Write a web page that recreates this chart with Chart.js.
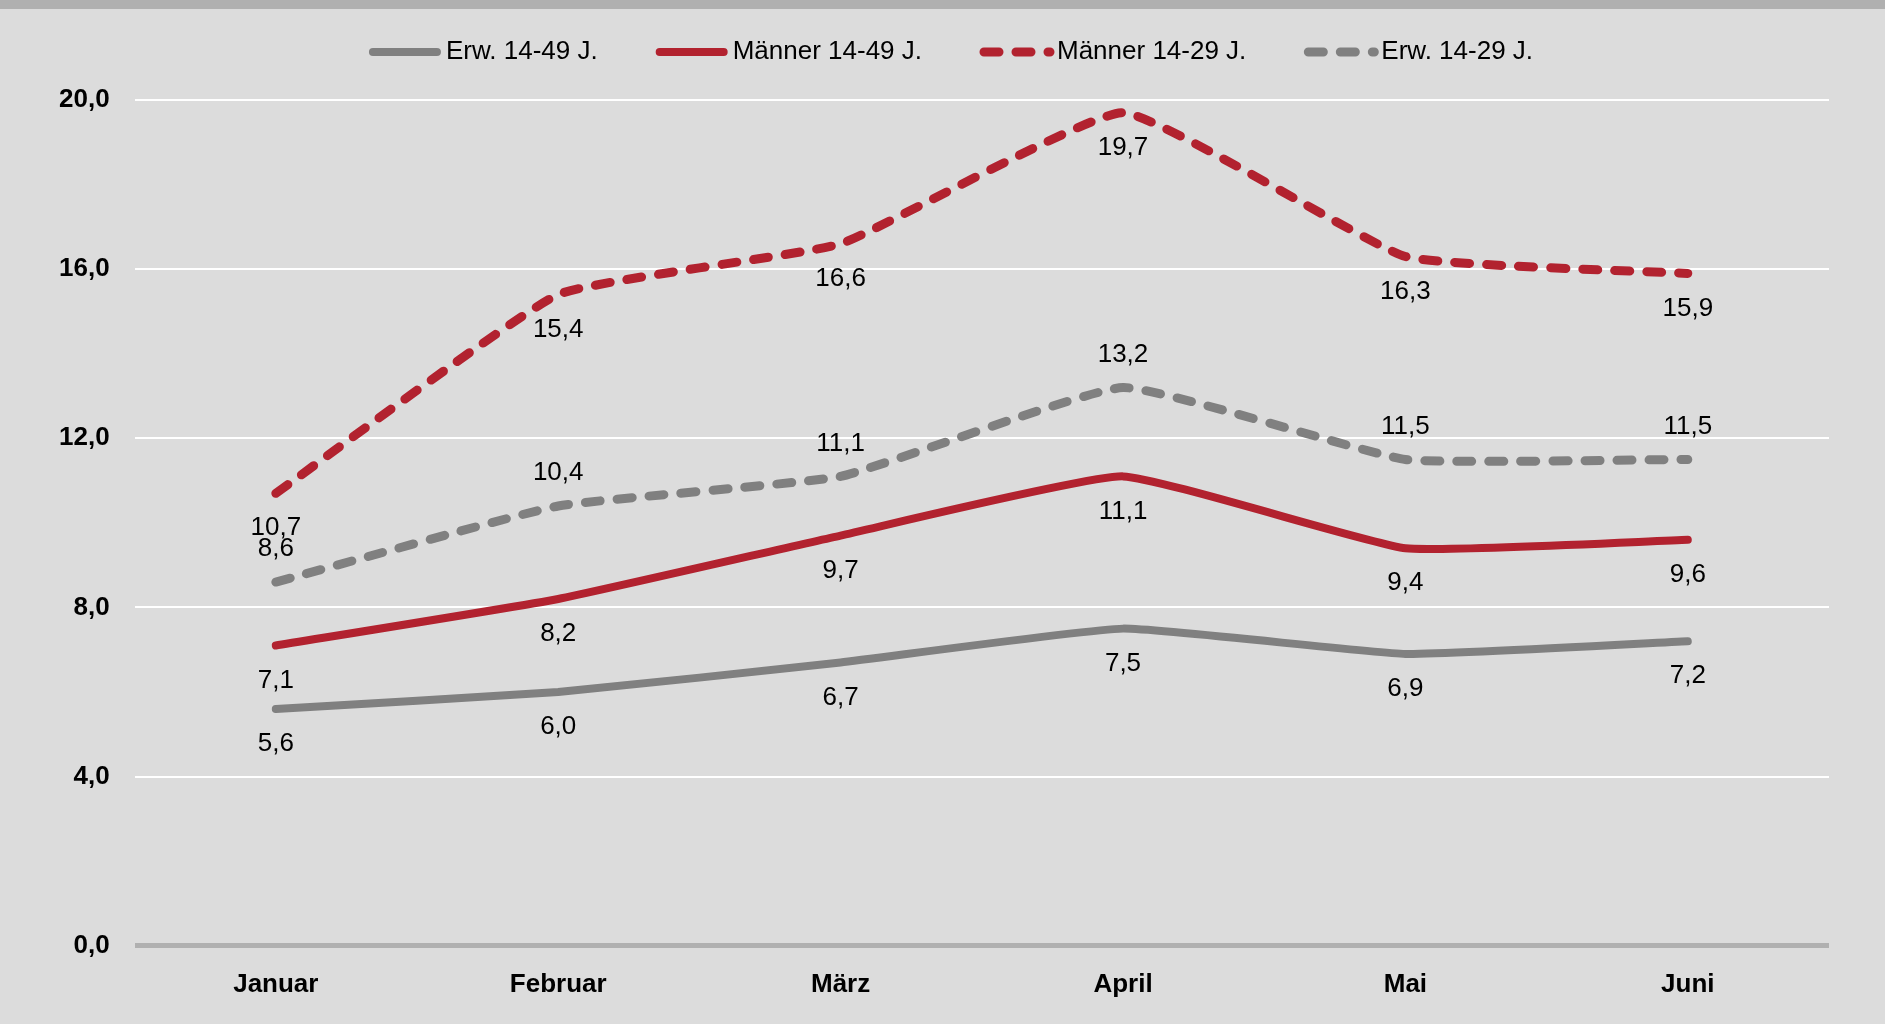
<!DOCTYPE html>
<html>
<head>
<meta charset="utf-8">
<script src="https://cdn.jsdelivr.net/npm/chart.js@4"></script>
<style>
html, body { margin: 0; padding: 0; background: #dcdcdc; }
body { width: 1885px; height: 1024px; overflow: hidden; position: relative; }
#topbar { position: absolute; left: 0; top: 0; width: 100%; height: 9px; background: #b0b0b0; }
#wrap { position: absolute; left: 0; top: 0; width: 1885px; height: 1024px; }
</style>
</head>
<body>
<div id="wrap"><canvas id="chart"></canvas></div>
<div id="topbar"></div>
<script>
// Data
const months = ['Januar', 'Februar', 'März', 'April', 'Mai', 'Juni'];
const erw1449 = [5.6, 6.0, 6.7, 7.5, 6.9, 7.2];
const maenner1449 = [7.1, 8.2, 9.7, 11.1, 9.4, 9.6];
const maenner1429 = [10.7, 15.4, 16.6, 19.7, 16.3, 15.9];
const erw1429 = [8.6, 10.4, 11.1, 13.2, 11.5, 11.5];
const yTickLabels = ['0,0', '4,0', '8,0', '12,0', '16,0', '20,0'];

const RED = '#b2222f';
const GREY = '#808080';
const DASH = [15, 17];

Chart.defaults.font.family = '"Liberation Sans", Arial, sans-serif';
Chart.defaults.color = '#000';

const fmt = v => v.toFixed(1).replace('.', ',');

// value labels under / over the points
const valueLabels = {
    id: 'valueLabels',
    afterDatasetsDraw(chart) {
        const ctx = chart.ctx;
        ctx.save();
        ctx.font = '26px "Liberation Sans", Arial, sans-serif';
        ctx.fillStyle = '#000';
        ctx.textAlign = 'center';
        ctx.textBaseline = 'middle';
        chart.data.datasets.forEach((ds, i) => {
            const meta = chart.getDatasetMeta(i);
            const off = ds.labelPos === 'above' ? -33 : 35;
            meta.data.forEach((pt, j) => {
                ctx.fillText(fmt(ds.data[j]), pt.x, pt.y + off);
            });
        });
        ctx.restore();
    }
};

// legend with line samples, drawn by hand to match the spacing
const lineLegend = {
    id: 'lineLegend',
    afterDraw(chart) {
        const ctx = chart.ctx;
        const sample = 72, gap = 5, spacing = 58, y = 52;
        ctx.save();
        ctx.font = '26px "Liberation Sans", Arial, sans-serif';
        const items = chart.data.datasets.map(ds => ({ ds, w: ctx.measureText(ds.label).width }));
        const total = items.reduce((s, it) => s + sample + gap + it.w, 0) + spacing * (items.length - 1);
        let x = 951 - total / 2;
        items.forEach(it => {
            ctx.beginPath();
            ctx.strokeStyle = it.ds.borderColor;
            ctx.lineWidth = it.ds.borderWidth;
            ctx.lineCap = 'round';
            ctx.setLineDash(it.ds.borderDash || []);
            ctx.moveTo(x + 4, y);
            ctx.lineTo(x + (it.ds.borderDash ? 70 : sample - 4), y);
            ctx.stroke();
            ctx.setLineDash([]);
            ctx.fillStyle = '#000';
            ctx.textAlign = 'left';
            ctx.textBaseline = 'middle';
            ctx.fillText(it.ds.label, x + sample + gap, y);
            x += sample + gap + it.w + spacing;
        });
        ctx.restore();
    }
};

const ctx = document.getElementById('chart').getContext('2d');
const chart = new Chart(ctx, {
    type: 'line',
    data: {
        labels: months,
        datasets: [
            { label: 'Erw. 14-49 J.', data: erw1449, borderColor: GREY, borderWidth: 8, labelPos: 'below' },
            { label: 'Männer 14-49 J.', data: maenner1449, borderColor: RED, borderWidth: 8, labelPos: 'below' },
            { label: 'Männer 14-29 J.', data: maenner1429, borderColor: RED, borderWidth: 9, borderDash: DASH, labelPos: 'below' },
            { label: 'Erw. 14-29 J.', data: erw1429, borderColor: GREY, borderWidth: 9, borderDash: DASH, labelPos: 'above' }
        ]
    },
    options: {
        responsive: true,
        maintainAspectRatio: false,
        animation: false,
        layout: { padding: { top: 100, left: 34, right: 56, bottom: 9 } },
        elements: {
            line: { tension: 0.12, borderCapStyle: 'round', borderJoinStyle: 'round', fill: false },
            point: { radius: 0, hoverRadius: 0 }
        },
        plugins: {
            legend: { display: false },
            tooltip: { enabled: false }
        },
        scales: {
            x: {
                offset: true,
                grid: { display: false },
                border: { display: false },
                ticks: { font: { size: 26, weight: 'bold' }, color: '#000', padding: 15 }
            },
            y: {
                min: 0,
                max: 20,
                border: { display: false },
                grid: {
                    drawTicks: false,
                    color: c => c.tick.value === 0 ? '#b0b0b0' : '#ffffff',
                    lineWidth: c => c.tick.value === 0 ? 5 : 2
                },
                ticks: {
                    stepSize: 4,
                    padding: 25,
                    font: { size: 26, weight: 'bold' },
                    color: '#000',
                    callback: (v, i) => yTickLabels[i]
                }
            }
        }
    },
    plugins: [valueLabels, lineLegend]
});
</script>
</body>
</html>
